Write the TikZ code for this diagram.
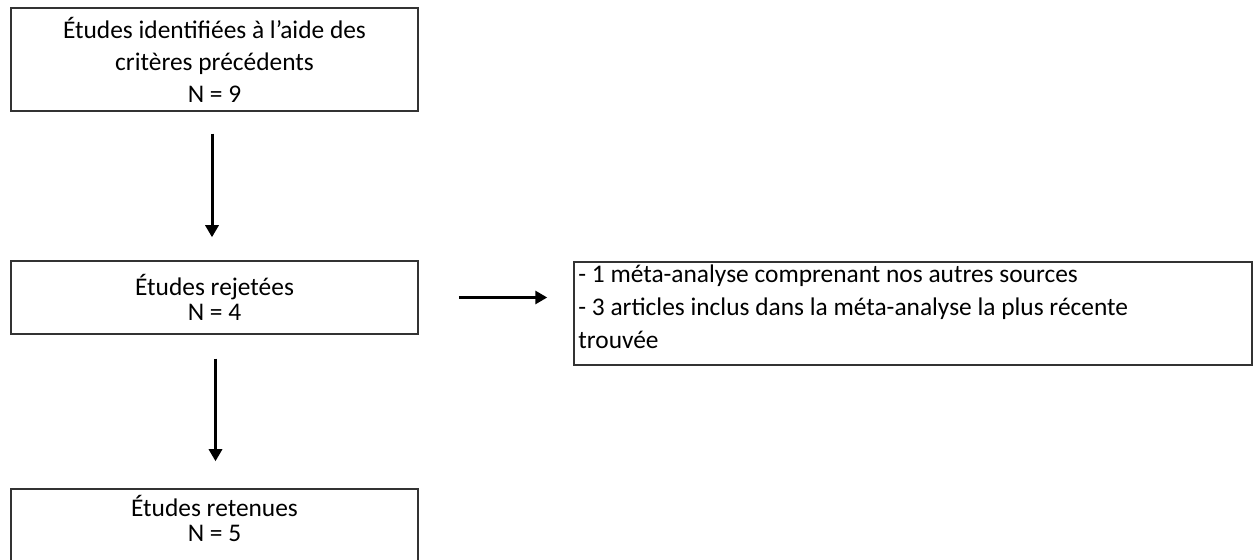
\documentclass[tikz,border=0pt]{standalone}
\usepackage{fontspec}
\setmainfont{Carlito}
\usetikzlibrary{arrows.meta}
\begin{document}
\begin{tikzpicture}[x=0.5pt,y=-0.5pt,
  box/.style={draw=black!80, line width=0.75pt, inner sep=0pt, align=center,
    font=\fontsize{12.7}{12.5}\selectfont},
  txt/.style={inner sep=0pt, align=left, font=\fontsize{12.7}{16.5}\selectfont},
  arr/.style={line width=1.5pt, -{Triangle[length=6pt,width=6.5pt]}}]
\useasboundingbox (0,0) rectangle (1253,560);
\clip (0,0) rectangle (1253,560);
\node[box, minimum width=203.5pt, minimum height=51.5pt,
  font=\fontsize{12.7}{16}\selectfont] (b1) at (214.5,59.5)
  {Études identifiées à l’aide des\\critères précédents\\N = 9};
\node[box, minimum width=203.5pt, minimum height=36.5pt] (b2) at (214.5,297.5)
  {Études rejetées\\N = 4};
\node[box, minimum width=203.5pt, minimum height=41pt] (b3) at (214.5,530) {};
\node[box, draw=none] (b3t) at (214.5,518) {Études retenues\\N = 5};
\node[draw=black!80, line width=0.75pt, inner sep=0pt,
  minimum width=339pt, minimum height=51.5pt] (rb) at (913,313.5) {};
\node[txt, anchor=north west] (rbt) at (578,264)
  {- 1 méta-analyse comprenant nos autres sources\\
   - 3 articles inclus dans la méta-analyse la plus récente\\
   trouvée};
\draw[arr] ([xshift=-1.25pt,yshift=-11pt]b1.south) -- ([xshift=-1.25pt,yshift=11.5pt]b2.north);
\draw[arr] ([xshift=0.5pt,yshift=-12pt]b2.south) -- ([xshift=0.5pt,yshift=13.5pt]b3.north);
\draw[arr] ([xshift=20pt]b2.east) -- ([xshift=-13pt]rb.west |- b2.east);
\end{tikzpicture}
\end{document}
